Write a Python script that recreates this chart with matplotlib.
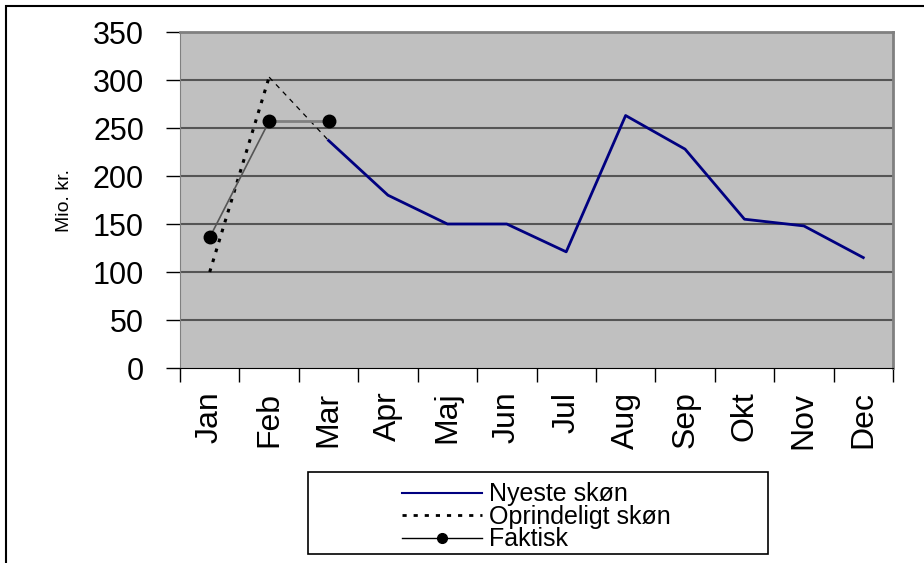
import numpy as np
import matplotlib.pyplot as plt
from matplotlib.patches import Rectangle
from matplotlib.lines import Line2D

months = ['Jan', 'Feb', 'Mar', 'Apr', 'Maj', 'Jun', 'Jul', 'Aug', 'Sep', 'Okt', 'Nov', 'Dec']
nyeste = [np.nan, np.nan, 237, 180, 150, 150, 121, 263, 228, 155, 148, 115]
oprindeligt = [100, 303, 237] + [np.nan] * 9
faktisk = [136, 257, 257] + [np.nan] * 9

plt.rcParams['font.family'] = ['Liberation Sans', 'DejaVu Sans']

fig = plt.figure(figsize=(9.24, 5.63), dpi=100)
ax = fig.add_axes([180 / 924, 1 - 368 / 563, 713 / 924, 336 / 563])

x = np.arange(len(months))
ax.set_facecolor('#c0c0c0')
for y in range(50, 351, 50):
    ax.axhline(y, color='#555555', lw=1.5, zorder=1)

ax.plot(x, nyeste, color='#000080', lw=2, zorder=3)
# original estimate: heavy dots Jan-Feb, thin dashes Feb-Mar
ax.plot(x[:2], oprindeligt[:2], color='black', lw=2.2, linestyle=(0, (1.2, 2.2)), zorder=3)
ax.plot(x[1:3], oprindeligt[1:3], color='black', lw=0.9, linestyle=(0, (4, 4)), zorder=3)
ax.plot(x[:2], faktisk[:2], color='#555555', lw=1.2, zorder=4)
ax.plot(x[1:3], faktisk[1:3], color='#808080', lw=2, zorder=4)
ax.plot(x, faktisk, linestyle='none', marker='o', markersize=9,
        markerfacecolor='black', markeredgecolor='black', zorder=5)

ax.set_xlim(-0.5, len(months) - 0.5)
ax.set_ylim(0, 350)
ax.set_yticks(range(0, 351, 50))
ax.tick_params(axis='y', labelsize=22, length=10, width=1, pad=16)
ax.set_xticks(x)
ax.set_xticklabels(months, rotation=90, fontsize=23)
ax.tick_params(axis='x', length=0, pad=17)
ax.set_xticks(np.arange(-0.5, len(months)), minor=True)
ax.tick_params(axis='x', which='minor', length=10, width=1)
ax.set_ylabel('Mio. kr.', fontsize=14, labelpad=14)

for side in ['top', 'right']:
    ax.spines[side].set_color('#808080')
    ax.spines[side].set_linewidth(2)
ax.spines['left'].set_color('#808080')
ax.spines['bottom'].set_color('black')

# outer frame of the figure
fig.patches.append(Rectangle((6 / 924, -0.05), 1.1, 1 - 6 / 563 + 0.05,
                             transform=fig.transFigure, fill=False,
                             edgecolor='black', lw=1.5))

# legend box
fig.patches.append(Rectangle((308 / 924, 1 - 554 / 563), 460 / 924, 82 / 563,
                             transform=fig.transFigure, fill=False,
                             edgecolor='black', lw=1.2))
handles = [
    Line2D([], [], color='#000080', lw=1.5),
    Line2D([], [], color='black', lw=2, linestyle=(0, (1.5, 2.5))),
    Line2D([], [], color='black', lw=1, marker='o', markersize=7),
]
fig.legend(handles, ['Nyeste skøn', 'Oprindeligt skøn', 'Faktisk'],
           loc='upper left', bbox_to_anchor=(389 / 924, 1 - 470 / 563),
           frameon=False, fontsize=18, handlelength=3.2, handletextpad=0.3,
           labelspacing=-0.06, borderpad=0)

fig.savefig('out.png', dpi=100)
